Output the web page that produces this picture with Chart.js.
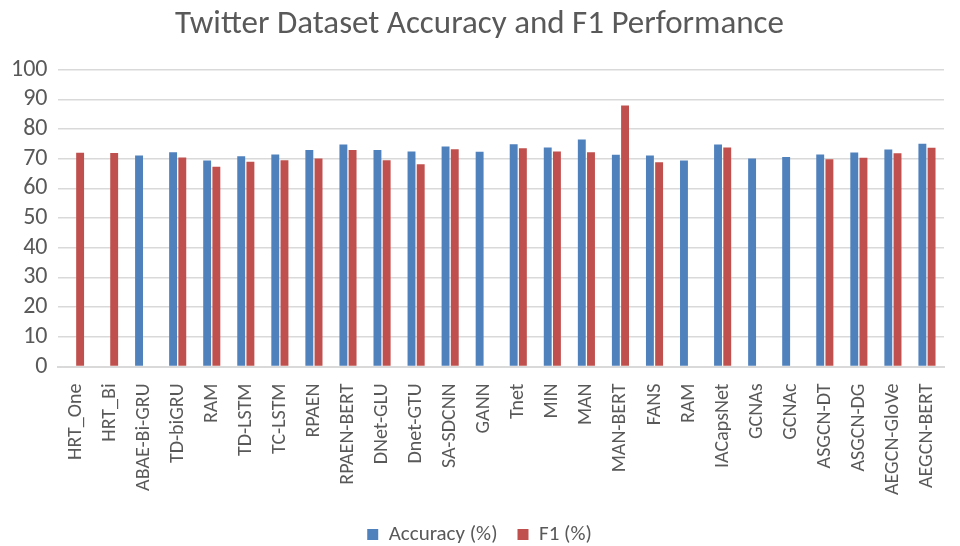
<!DOCTYPE html>
<html lang="en">
<head>
  <meta charset="UTF-8">
  <title>Twitter Dataset Accuracy and F1 Performance</title>
  <script src="https://cdn.jsdelivr.net/npm/chart.js"></script>
  <style>
    html, body { margin: 0; padding: 0; background: #fff; }
    #wrap { width: 960px; height: 546px; }
  </style>
</head>
<body>
  <div id="wrap"><canvas id="twitterChart" width="960" height="546"></canvas></div>

  <script>
    const models = ['HRT_One', 'HRT_Bi', 'ABAE-Bi-GRU', 'TD-biGRU', 'RAM', 'TD-LSTM', 'TC-LSTM', 'RPAEN',
      'RPAEN-BERT', 'DNet-GLU', 'Dnet-GTU', 'SA-SDCNN', 'GANN', 'Tnet', 'MIN', 'MAN', 'MAN-BERT',
      'FANS', 'RAM', 'IACapsNet', 'GCNAs', 'GCNAc', 'ASGCN-DT', 'ASGCN-DG', 'AEGCN-GloVe', 'AEGCN-BERT'];
    const accuracy = [null, null, 71.1, 72.2, 69.4, 70.8, 71.4, 72.9,
      74.8, 72.9, 72.4, 74.1, 72.3, 74.9, 73.8, 76.5, 71.3,
      71.1, 69.4, 74.8, 70.1, 70.6, 71.4, 72.1, 73.1, 75.0];
    const f1 = [72.0, 71.9, null, 70.4, 67.3, 69.0, 69.5, 70.1,
      72.9, 69.5, 68.1, 73.2, null, 73.5, 72.4, 72.2, 87.9,
      68.8, null, 73.8, null, null, 69.8, 70.3, 71.8, 73.7];
    const yTicks = [0, 10, 20, 30, 40, 50, 60, 70, 80, 90, 100];

    const grey = '#595959';
    const font = "Calibri, Carlito, Lato, sans-serif";

    new Chart(document.getElementById('twitterChart'), {
      type: 'bar',
      data: {
        labels: models,
        datasets: [
          { label: 'Accuracy (%)', data: accuracy, backgroundColor: '#4F81BD',
            categoryPercentage: 0.54, barPercentage: 0.86 },
          { label: 'F1 (%)', data: f1, backgroundColor: '#C0504D',
            categoryPercentage: 0.54, barPercentage: 0.86 }
        ]
      },
      options: {
        responsive: false,
        animation: false,
        layout: { padding: { left: 0, right: 1, top: 2, bottom: -9 } },
        plugins: {
          title: {
            display: true,
            text: 'Twitter Dataset Accuracy and F1 Performance',
            color: grey,
            font: { family: font, size: 33, weight: 'normal' },
            padding: { top: 3, bottom: 25 }
          },
          legend: {
            position: 'bottom',
            labels: { color: grey, font: { family: font, size: 21 }, boxWidth: 11, boxHeight: 11, padding: 20 }
          },
          tooltip: { enabled: false }
        },
        scales: {
          x: {
            grid: { display: false },
            border: { color: '#d9d9d9', width: 2 },
            ticks: { color: grey, font: { family: font, size: 20 }, maxRotation: 90, minRotation: 90, autoSkip: false, padding: 9 }
          },
          y: {
            min: 0, max: 100,
            afterBuildTicks: axis => { axis.ticks = yTicks.map(v => ({ value: v })); },
            grid: { color: '#d9d9d9', lineWidth: 1.5, drawTicks: false },
            border: { display: false },
            ticks: { color: grey, font: { family: font, size: 24 }, padding: 11, autoSkip: false }
          }
        }
      }
    });
  </script>
</body>
</html>
